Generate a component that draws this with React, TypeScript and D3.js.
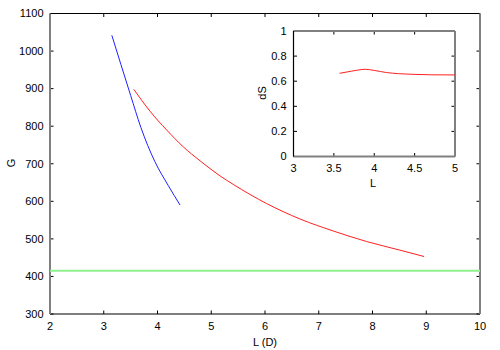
import React from "react";
import * as d3 from "d3";

// main panel data
const blueL = [3.15, 3.32, 3.5, 3.69, 3.95, 4.2, 4.42];
const blueG = [1042, 964, 882, 797, 706, 642, 590];
const redL = [3.56, 3.86, 4.17, 4.48, 4.79, 5.16, 5.41, 6.03, 6.65, 7.27, 7.89, 8.51, 8.96];
const redG = [898, 840, 790, 745, 708, 668, 645, 594, 553, 521, 493, 470, 453];
const greenG = 415;
const xTicks = [2, 3, 4, 5, 6, 7, 8, 9, 10];
const yTicks = [300, 400, 500, 600, 700, 800, 900, 1000, 1100];

// inset data
const insetL = [3.57, 3.72, 3.89, 4.0, 4.15, 4.3, 4.48, 4.7, 5.0];
const insetDS = [0.663, 0.68, 0.695, 0.686, 0.669, 0.66, 0.655, 0.651, 0.65];
const insetXTicks = [3, 3.5, 4, 4.5, 5];
const insetYTicks = [0, 0.2, 0.4, 0.6, 0.8, 1];

const FONT = "'Liberation Sans', Arial, sans-serif";
const GRAY = "#808080";

export default function App() {
  const x = d3.scaleLinear().domain([2, 10]).range([50, 480]);
  const y = d3.scaleLinear().domain([300, 1100]).range([314, 13.5]);
  const ix = d3.scaleLinear().domain([3, 5]).range([293.5, 455]);
  const iy = d3.scaleLinear().domain([0, 1]).range([156.5, 31]);

  const line = (xs: number[], ys: number[], sx: any, sy: any) =>
    d3
      .line<number>()
      .x((_, i) => sx(xs[i]))
      .y((d) => sy(d))
      .curve(d3.curveMonotoneX)(ys) || "";

  const tk = 3.5;

  return (
    <svg
      width={500}
      height={350}
      style={{ position: "absolute", left: 0, top: 0, background: "#fff" }}
      fontFamily={FONT}
      fontSize={11}
    >
      {/* main ticks */}
      {xTicks.map((t) => (
        <g key={"xt" + t}>
          <line x1={x(t)} x2={x(t)} y1={y(300)} y2={y(300) - tk} stroke="#000" />
          <line x1={x(t)} x2={x(t)} y1={y(1100)} y2={y(1100) + tk} stroke="#000" />
          <text x={x(t)} y={330} textAnchor="middle">{t}</text>
        </g>
      ))}
      {yTicks.map((t) => (
        <g key={"yt" + t}>
          <line x1={x(2)} x2={x(2) + tk} y1={y(t)} y2={y(t)} stroke="#000" />
          <line x1={x(10)} x2={x(10) - tk} y1={y(t)} y2={y(t)} stroke="#000" />
          <text x={43.5} y={y(t)} dy="0.35em" textAnchor="end">{t}</text>
        </g>
      ))}

      {/* main frame */}
      <line x1={x(2)} x2={x(10)} y1={y(1100)} y2={y(1100)} stroke="#000" strokeWidth={1.2} />
      <line x1={x(2)} x2={x(10)} y1={y(300)} y2={y(300)} stroke="#000" strokeWidth={1.2} />
      <line x1={x(2)} x2={x(2)} y1={y(300)} y2={y(1100)} stroke={GRAY} strokeWidth={2} />
      <line x1={x(10)} x2={x(10)} y1={y(300)} y2={y(1100)} stroke={GRAY} strokeWidth={2} />

      {/* series */}
      <line x1={x(2)} x2={x(10)} y1={y(greenG)} y2={y(greenG)} stroke="#90f090" strokeWidth={2} />
      <path d={line(blueL, blueG, x, y)} fill="none" stroke="#2020ff" strokeWidth={1} />
      <path d={line(redL, redG, x, y)} fill="none" stroke="#ff2020" strokeWidth={1} />

      <text x={265} y={346} textAnchor="middle">L (D)</text>
      <text transform={`translate(15,163) rotate(-90)`} textAnchor="middle">G</text>

      {/* inset */}
      <rect x={ix(3)} y={iy(1)} width={ix(5) - ix(3)} height={iy(0) - iy(1)} fill="#fff" />
      {insetXTicks.map((t) => (
        <g key={"ixt" + t}>
          <line x1={ix(t)} x2={ix(t)} y1={iy(0)} y2={iy(0) - tk} stroke="#000" />
          <line x1={ix(t)} x2={ix(t)} y1={iy(1)} y2={iy(1) + tk} stroke="#000" />
          <text x={ix(t)} y={172} textAnchor="middle">{t}</text>
        </g>
      ))}
      {insetYTicks.map((t) => (
        <g key={"iyt" + t}>
          <line x1={ix(3)} x2={ix(3) + tk} y1={iy(t)} y2={iy(t)} stroke="#000" />
          <line x1={ix(5)} x2={ix(5) - tk} y1={iy(t)} y2={iy(t)} stroke="#000" />
          <text x={286.5} y={iy(t)} dy="0.35em" textAnchor="end">{t}</text>
        </g>
      ))}
      <line x1={ix(3)} x2={ix(5)} y1={iy(1)} y2={iy(1)} stroke={GRAY} strokeWidth={2} />
      <line x1={ix(3)} x2={ix(5)} y1={iy(0)} y2={iy(0)} stroke={GRAY} strokeWidth={2} />
      <line x1={ix(3)} x2={ix(3)} y1={iy(0)} y2={iy(1)} stroke="#000" strokeWidth={1.2} />
      <line x1={ix(5)} x2={ix(5)} y1={iy(0)} y2={iy(1)} stroke={GRAY} strokeWidth={2} />
      <path d={line(insetL, insetDS, ix, iy)} fill="none" stroke="#ff2020" strokeWidth={1} />
      <text x={373} y={187} textAnchor="middle">L</text>
      <text transform={`translate(266,93) rotate(-90)`} textAnchor="middle">dS</text>
    </svg>
  );
}
